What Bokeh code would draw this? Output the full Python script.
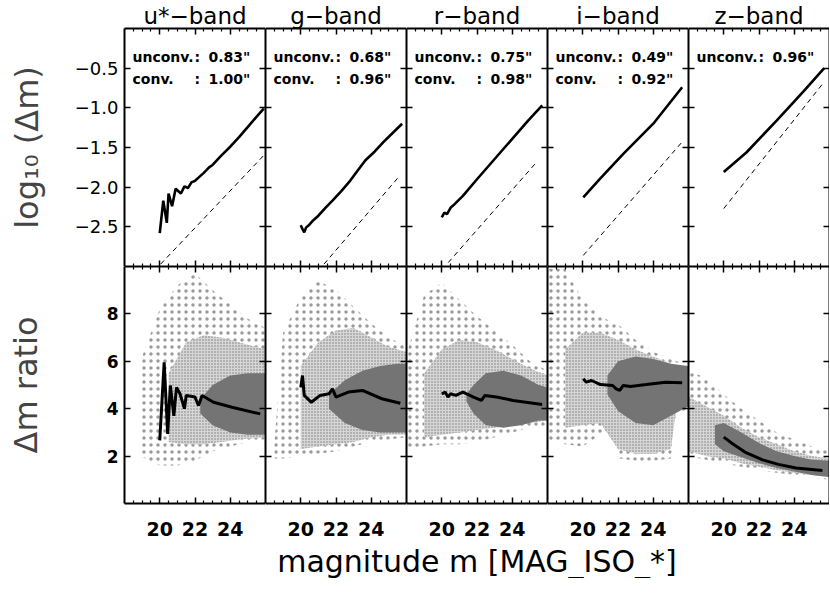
from bokeh.plotting import figure
from bokeh.layouts import gridplot, column
from bokeh.models import FixedTicker, Label, Range1d, LinearAxis
from bokeh.embed import file_html
from bokeh.resources import INLINE

# ---------------- data ----------------
BANDS = ["u*−band", "g−band", "r−band", "i−band", "z−band"]
SEEING_UNCONV = ['0.83"', '0.68"', '0.75"', '0.49"', '0.96"']
SEEING_CONV = ['1.00"', '0.96"', '0.98"', '0.92"', None]
X_LABEL = "magnitude m [MAG_ISO_*]"
TOP_Y_LABEL = "log₁₀ (Δm)"
BOT_Y_LABEL = "Δm ratio"

X_TICKS = [20, 22, 24]
X_MINOR = [18.5, 19, 19.5, 20.5, 21, 21.5, 22.5, 23, 23.5, 24.5, 25, 25.5]
TOP_Y_TICKS = [-2.5, -2.0, -1.5, -1.0, -0.5]
TOP_Y_LABELS = ["−2.5", "−2.0", "−1.5", "−1.0", "−0.5"]
BOT_Y_TICKS = [2, 4, 6, 8]
BOT_Y_LABELS = ["2", "4", "6", "8"]

# top row: log10(dm), solid and dashed
u_sol_m = [20.0, 20.2, 20.4, 20.5, 20.7, 20.9, 21.2, 21.4, 21.6, 21.8, 22.0, 22.2, 22.5, 22.8, 23.0, 23.5, 24.0, 24.5, 25.0, 25.5, 25.9]
u_sol_v = [-2.58, -2.17, -2.45, -2.08, -2.24, -2.02, -2.08, -1.99, -2.01, -1.94, -1.92, -1.88, -1.82, -1.75, -1.72, -1.60, -1.49, -1.37, -1.24, -1.11, -1.01]
u_dash_m = [20.05, 25.9]
u_dash_v = [-2.97, -1.60]

g_sol_m = [20.0, 20.1, 20.2, 20.3, 20.5, 20.7, 21.0, 21.4, 21.8, 22.3, 22.8, 23.2, 23.67, 24.2, 24.7, 25.2, 25.75]
g_sol_v = [-2.48, -2.53, -2.57, -2.51, -2.47, -2.42, -2.36, -2.26, -2.17, -2.05, -1.92, -1.80, -1.66, -1.55, -1.43, -1.32, -1.20]
g_dash_m = [21.32, 25.64]
g_dash_v = [-2.97, -1.85]

r_sol_m = [20.0, 20.15, 20.3, 20.5, 20.7, 21.2, 22.0, 23.1, 24.0, 24.9, 25.7]
r_sol_v = [-2.38, -2.32, -2.34, -2.26, -2.22, -2.11, -1.90, -1.62, -1.39, -1.16, -0.97]
r_dash_m = [20.37, 25.36]
r_dash_v = [-2.95, -1.69]

i_sol_m = [20.03, 21.0, 22.3, 24.0, 25.64]
i_sol_v = [-2.13, -1.89, -1.58, -1.20, -0.74]
i_dash_m = [20.03, 25.64]
i_dash_v = [-2.86, -1.43]

z_sol_m = [20.0, 21.3, 23.0, 24.5, 25.7]
z_sol_v = [-1.81, -1.56, -1.16, -0.80, -0.50]
z_dash_m = [20.0, 25.6]
z_dash_v = [-2.27, -0.70]

# bottom row: dm ratio, running line
u_rat_m = [20.0, 20.25, 20.45, 20.6, 20.8, 20.95, 21.15, 21.4, 21.5, 22.0, 22.2, 22.4, 23.05, 24.1, 25.7]
u_rat_v = [2.66, 5.96, 2.94, 4.98, 3.70, 4.90, 4.63, 4.00, 4.56, 4.49, 4.13, 4.56, 4.27, 4.06, 3.78]
g_rat_m = [20.0, 20.1, 20.2, 20.6, 21.1, 21.6, 21.8, 22.0, 22.7, 23.5, 24.6, 25.65]
g_rat_v = [4.90, 5.40, 4.56, 4.27, 4.56, 4.63, 4.84, 4.49, 4.70, 4.77, 4.42, 4.23]
r_rat_m = [20.0, 20.2, 20.35, 20.5, 20.8, 21.2, 21.8, 22.25, 22.45, 23.1, 24.05, 25.7]
r_rat_v = [4.63, 4.70, 4.49, 4.63, 4.56, 4.70, 4.49, 4.35, 4.56, 4.49, 4.35, 4.18]
i_rat_m = [20.03, 20.2, 20.5, 21.0, 21.7, 21.9, 22.1, 22.3, 22.7, 23.6, 24.7, 25.64]
i_rat_v = [5.26, 5.12, 5.19, 5.02, 4.98, 4.84, 4.77, 4.98, 4.94, 5.02, 5.12, 5.09]
z_rat_m = [20.0, 20.5, 21.2, 22.2, 23.1, 24.1, 25.6]
z_rat_v = [2.80, 2.52, 2.17, 1.84, 1.65, 1.50, 1.39]

# bottom row: extent of the scattered objects (sparse halo, medium, dense core)
u_halo_m = [18.9, 20.0, 21.0, 22.0, 23.0, 24.0, 25.0, 26.0]
u_halo_lo = [2.0, 1.6, 1.6, 1.8, 2.2, 2.4, 2.6, 2.7]
u_halo_hi = [6.0, 8.2, 9.2, 9.7, 9.0, 8.4, 7.8, 7.4]
u_mid_m = [20.5, 21.5, 22.5, 23.5, 24.5, 26.0]
u_mid_lo = [2.6, 2.5, 2.5, 2.6, 2.7, 2.8]
u_mid_hi = [5.5, 6.8, 7.1, 7.0, 6.8, 6.5]
u_core_m = [22.3, 23.0, 24.0, 25.0, 26.0]
u_core_lo = [3.8, 3.3, 3.0, 2.9, 2.9]
u_core_hi = [4.4, 5.0, 5.4, 5.5, 5.5]

g_halo_m = [18.5, 19.0, 20.0, 21.0, 22.0, 23.0, 24.0, 25.0, 26.0]
g_halo_lo = [1.9, 1.9, 2.0, 2.1, 2.2, 2.4, 2.6, 2.7, 2.8]
g_halo_hi = [2.5, 7.2, 8.7, 9.4, 9.0, 8.3, 7.6, 7.0, 6.6]
g_mid_m = [20.0, 21.0, 22.0, 23.0, 24.0, 25.0, 26.0]
g_mid_lo = [2.3, 2.4, 2.5, 2.6, 2.8, 2.9, 2.9]
g_mid_hi = [5.8, 6.8, 7.3, 7.4, 7.0, 6.6, 6.4]
g_core_m = [21.6, 22.5, 23.5, 24.5, 25.5, 26.0]
g_core_lo = [4.0, 3.4, 3.1, 3.0, 3.0, 3.0]
g_core_hi = [4.6, 5.2, 5.6, 5.8, 5.9, 5.9]

r_halo_m = [18.0, 19.0, 20.0, 21.0, 22.0, 23.0, 24.0, 25.0, 26.0]
r_halo_lo = [2.3, 2.4, 2.5, 2.5, 2.6, 2.8, 3.0, 3.2, 3.3]
r_halo_hi = [6.3, 8.8, 9.3, 8.6, 7.9, 7.3, 6.7, 6.0, 5.6]
r_mid_m = [19.0, 20.0, 21.0, 22.0, 23.0, 24.0, 25.0, 26.0]
r_mid_lo = [2.8, 2.9, 3.0, 3.1, 3.2, 3.3, 3.4, 3.5]
r_mid_hi = [5.5, 6.5, 6.9, 6.8, 6.5, 6.1, 5.7, 5.4]
r_core_m = [21.4, 21.8, 22.5, 23.5, 24.5, 25.5, 26.0]
r_core_lo = [4.3, 3.8, 3.3, 3.2, 3.3, 3.5, 3.5]
r_core_hi = [4.6, 5.0, 5.5, 5.6, 5.4, 5.0, 4.9]

i_halo_m = [18.0, 19.0, 20.0, 21.0, 21.8, 22.1, 23.0, 24.0, 25.0, 25.3, 26.0]
i_halo_lo = [2.7, 2.5, 2.4, 2.9, 3.3, 1.9, 1.8, 1.8, 1.9, 3.8, 4.0]
i_halo_hi = [9.9, 9.9, 8.6, 7.9, 7.6, 7.5, 6.9, 6.4, 6.1, 6.0, 5.9]
i_mid_m = [19.0, 20.0, 21.0, 22.0, 23.0, 24.0, 25.0, 25.3, 26.0]
i_mid_lo = [3.2, 3.3, 3.4, 2.3, 2.1, 2.1, 2.3, 4.0, 4.1]
i_mid_hi = [6.5, 7.2, 7.2, 6.9, 6.5, 6.2, 5.9, 5.8, 5.7]
i_core_m = [21.4, 22.0, 23.0, 24.0, 25.0, 26.0]
i_core_lo = [4.6, 3.9, 3.4, 3.3, 3.7, 4.1]
i_core_hi = [5.4, 6.0, 6.2, 6.1, 5.9, 5.8]

z_halo_m = [18.0, 19.0, 20.0, 21.0, 22.0, 23.0, 24.0, 25.0, 26.0]
z_halo_lo = [2.0, 1.85, 1.7, 1.55, 1.4, 1.3, 1.2, 1.1, 1.0]
z_halo_hi = [5.6, 5.3, 4.6, 4.0, 3.5, 3.0, 2.7, 2.4, 2.2]
z_mid_m = [18.0, 19.0, 20.0, 21.0, 22.0, 23.0, 24.0, 25.0, 26.0]
z_mid_lo = [2.2, 2.0, 1.9, 1.7, 1.55, 1.4, 1.3, 1.2, 1.1]
z_mid_hi = [4.5, 4.1, 3.7, 3.2, 2.8, 2.5, 2.2, 2.0, 1.9]
z_core_m = [19.5, 20.0, 21.0, 22.0, 23.0, 24.0, 25.0, 26.0]
z_core_lo = [2.5, 2.2, 1.95, 1.7, 1.5, 1.35, 1.2, 1.12]
z_core_hi = [3.3, 3.4, 3.0, 2.55, 2.2, 2.0, 1.85, 1.8]

TOP = [(u_sol_m, u_sol_v, u_dash_m, u_dash_v), (g_sol_m, g_sol_v, g_dash_m, g_dash_v),
       (r_sol_m, r_sol_v, r_dash_m, r_dash_v), (i_sol_m, i_sol_v, i_dash_m, i_dash_v),
       (z_sol_m, z_sol_v, z_dash_m, z_dash_v)]
RATIO = [(u_rat_m, u_rat_v), (g_rat_m, g_rat_v), (r_rat_m, r_rat_v), (i_rat_m, i_rat_v), (z_rat_m, z_rat_v)]
CLOUD = [
    ((u_halo_m, u_halo_lo, u_halo_hi), (u_mid_m, u_mid_lo, u_mid_hi), (u_core_m, u_core_lo, u_core_hi)),
    ((g_halo_m, g_halo_lo, g_halo_hi), (g_mid_m, g_mid_lo, g_mid_hi), (g_core_m, g_core_lo, g_core_hi)),
    ((r_halo_m, r_halo_lo, r_halo_hi), (r_mid_m, r_mid_lo, r_mid_hi), (r_core_m, r_core_lo, r_core_hi)),
    ((i_halo_m, i_halo_lo, i_halo_hi), (i_mid_m, i_mid_lo, i_mid_hi), (i_core_m, i_core_lo, i_core_hi)),
    ((z_halo_m, z_halo_lo, z_halo_hi), (z_mid_m, z_mid_lo, z_mid_hi), (z_core_m, z_core_lo, z_core_hi)),
]

# ---------------- styling ----------------
FONT = "DejaVu Sans"
FW = 141
FH_TOP = 238
FH_BOT = 237
LEFT = 124
TOPB = 28


def make_axis(ticks, minor, labels=None, show=False, size="18px", bold=False, standoff=6):
    ax = LinearAxis(ticker=FixedTicker(ticks=ticks, minor_ticks=minor))
    ax.major_tick_in = 6
    ax.major_tick_out = 0
    ax.minor_tick_in = 3
    ax.minor_tick_out = 0
    ax.axis_line_width = 2
    ax.axis_line_color = "black"
    ax.major_tick_line_width = 1.5
    ax.minor_tick_line_width = 1.2
    if labels is not None:
        ax.major_label_overrides = {t: l for t, l in zip(ticks, labels)}
    if show:
        ax.major_label_text_font = FONT
        ax.major_label_text_font_size = size
        ax.major_label_text_color = "black"
        ax.major_label_text_font_style = "bold" if bold else "normal"
        ax.major_label_standoff = standoff
    else:
        ax.major_label_text_color = None
        ax.major_label_text_alpha = 0
        ax.major_label_standoff = 0
    return ax


def make_fig(col, row):
    top = row == 0
    fh = FH_TOP if top else FH_BOT
    yr = Range1d(-3.0, 0.0) if top else Range1d(0.0, 10.0)
    p = figure(frame_width=FW, frame_height=fh, x_range=Range1d(18, 26), y_range=yr,
               output_backend="svg", toolbar_location=None,
               x_axis_location=None, y_axis_location=None,
               min_border_left=LEFT if col == 0 else 0, min_border_right=0,
               min_border_top=TOPB if top else 0, min_border_bottom=0)
    p.outline_line_color = None
    p.background_fill_color = "white"
    p.border_fill_color = "white"
    p.xgrid.grid_line_color = None
    p.ygrid.grid_line_color = None

    if top:
        yt, yl = TOP_Y_TICKS, TOP_Y_LABELS
        p.title.text = BANDS[col]
        p.title.align = "center"
        p.title.text_font = FONT
        p.title.text_font_size = "23px"
        p.title.text_font_style = "normal"
        p.title.text_color = "black"
        p.title.standoff = 0
        p.title.offset = 0
    else:
        yt, yl = BOT_Y_TICKS, BOT_Y_LABELS

    if col == 0:
        la = make_axis(yt, [], yl, show=True, size="18px" if top else "17px", bold=not top, standoff=6)
        la.axis_label = TOP_Y_LABEL if top else BOT_Y_LABEL
        la.axis_label_text_font = FONT
        la.axis_label_text_font_size = "32px"
        la.axis_label_text_font_style = "normal"
        la.axis_label_standoff = 26 if top else 59
    else:
        la = make_axis(yt, [], yl)
    p.add_layout(la, "left")
    p.add_layout(make_axis(yt, [], yl), "right")
    p.add_layout(make_axis(X_TICKS, X_MINOR), "above")
    if top:
        p.add_layout(make_axis(X_TICKS, X_MINOR), "below")
    else:
        p.add_layout(make_axis(X_TICKS, X_MINOR, show=True, size="19px", bold=True, standoff=18), "below")

    if top:
        sm, sv, dm, dv = TOP[col]
        p.line(dm, dv, line_color="black", line_width=1, line_dash="5 4")
        p.line(sm, sv, line_color="black", line_width=2.6)
        common = dict(x_units="screen", y_units="screen", text_baseline="alphabetic",
                      text_font=FONT, text_font_size="14px", text_font_style="bold",
                      text_color="black", text_align="left")
        p.add_layout(Label(x=8, y=fh - 28, text="unconv.", **common))
        p.add_layout(Label(x=70, y=fh - 28, text=":", **common))
        p.add_layout(Label(x=84, y=fh - 28, text=SEEING_UNCONV[col], **common))
        if SEEING_CONV[col] is not None:
            p.add_layout(Label(x=8, y=fh - 50, text="conv.", **common))
            p.add_layout(Label(x=70, y=fh - 50, text=":", **common))
            p.add_layout(Label(x=84, y=fh - 50, text=SEEING_CONV[col], **common))
    else:
        halo, mid, core = CLOUD[col]
        p.varea(x=halo[0], y1=halo[1], y2=halo[2], fill_alpha=0,
                hatch_pattern="dot", hatch_scale=7, hatch_color="#9a9a9a", hatch_weight=1)
        p.varea(x=mid[0], y1=mid[1], y2=mid[2], fill_color="#d6d6d6", fill_alpha=1.0,
                hatch_pattern="dot", hatch_scale=3, hatch_color="#7a7a7a", hatch_weight=1)
        p.varea(x=core[0], y1=core[1], y2=core[2], fill_color="#747474", fill_alpha=1.0)
        rm, rv = RATIO[col]
        p.line(rm, rv, line_color="black", line_width=3)
    return p


rows = [[make_fig(c, r) for c in range(5)] for r in range(2)]
grid = gridplot(rows, toolbar_location=None)

# x-axis title shared by all panels
LAB_W = 800
LAB_H = 40
lab = figure(frame_width=LAB_W, frame_height=LAB_H, x_range=Range1d(0, 1), y_range=Range1d(0, 1),
             output_backend="svg", toolbar_location=None, x_axis_location=None, y_axis_location=None,
             min_border=0)
lab.outline_line_color = None
lab.background_fill_color = "white"
lab.border_fill_color = "white"
lab.xgrid.grid_line_color = None
lab.ygrid.grid_line_color = None
lab.add_layout(Label(x=LEFT + 5 * FW / 2, y=LAB_H - 5, x_units="screen", y_units="screen", text=X_LABEL,
                     text_align="center", text_baseline="top", text_font=FONT,
                     text_font_size="30px", text_color="black"))

page = column(grid, lab)
open("out.html", "w").write(file_html(page, INLINE))
